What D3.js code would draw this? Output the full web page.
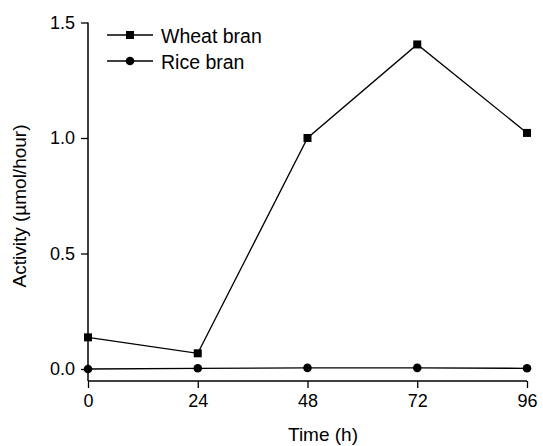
<!DOCTYPE html>
<html>
<head>
<meta charset="utf-8">
<script src="https://cdn.jsdelivr.net/npm/d3@7"></script>
<style>
  body { margin: 0; background: #fff; }
  text { font-family: "Liberation Sans", Arial, sans-serif; fill: #000; }
</style>
</head>
<body>
<script>
var width = 543, height = 446;

var hours = [0, 24, 48, 72, 96];
var wheat = [0.137, 0.068, 1.0, 1.405, 1.022];
var rice = [0.0, 0.003, 0.005, 0.005, 0.003];
var seriesNames = ["Wheat bran", "Rice bran"];
var xTicks = [0, 24, 48, 72, 96];
var yTicks = [0.0, 0.5, 1.0, 1.5];

var svg = d3.select("body").append("svg")
  .attr("width", width)
  .attr("height", height);

var x = d3.scaleLinear().domain([0, 96]).range([88, 527]);
var y = d3.scaleLinear().domain([0, 1.5]).range([369, 22.5]);
var yBottom = y(-0.052);

// axes
var xAxis = svg.append("g").attr("transform", "translate(0," + yBottom + ")");
xAxis.call(d3.axisBottom(x).tickValues([12, 36, 60, 84]).tickSize(4).tickFormat(""));
xAxis.call(d3.axisBottom(x).tickValues(xTicks).tickSize(7).tickPadding(6).tickFormat(d3.format("d")));
xAxis.selectAll("path.domain").attr("d", "M" + x(0) + ",0H" + x(96));
xAxis.selectAll("line").attr("stroke-width", 1.3);
xAxis.selectAll("path").attr("stroke-width", 1.5);
xAxis.selectAll("text").style("font-size", "18px").style("font-family", "Liberation Sans, Arial, sans-serif");

var yAxis = svg.append("g").attr("transform", "translate(" + x(0) + ",0)");
yAxis.call(d3.axisLeft(y).tickValues([0.25, 0.75, 1.25]).tickSize(4).tickFormat(""));
yAxis.call(d3.axisLeft(y).tickValues(yTicks).tickSize(7).tickPadding(6).tickFormat(d3.format(".1f")));
yAxis.selectAll("path.domain").attr("d", "M0," + y(1.5) + "V" + yBottom);
yAxis.selectAll("line").attr("stroke-width", 1.3);
yAxis.selectAll("path").attr("stroke-width", 1.5);
yAxis.selectAll("text").style("font-size", "18px").style("font-family", "Liberation Sans, Arial, sans-serif");

// axis titles
svg.append("text")
  .attr("x", 323)
  .attr("y", 441)
  .attr("text-anchor", "middle")
  .style("font-size", "19px")
  .text("Time (h)");

svg.append("text")
  .attr("transform", "translate(26,206) rotate(-90)")
  .attr("text-anchor", "middle")
  .style("font-size", "19px")
  .text("Activity (µmol/hour)");

// lines
var line = d3.line()
  .x(function(d, i) { return x(hours[i]); })
  .y(function(d) { return y(d); });

[wheat, rice].forEach(function(s) {
  svg.append("path")
    .attr("d", line(s))
    .attr("fill", "none")
    .attr("stroke", "#000")
    .attr("stroke-width", 1.3);
});

svg.selectAll(".sq")
  .data(wheat)
  .enter()
  .append("rect")
  .attr("x", function(d, i) { return x(hours[i]) - 4; })
  .attr("y", function(d) { return y(d) - 4; })
  .attr("width", 8)
  .attr("height", 8)
  .attr("fill", "#000");

svg.selectAll(".ci")
  .data(rice)
  .enter()
  .append("circle")
  .attr("cx", function(d, i) { return x(hours[i]); })
  .attr("cy", function(d) { return y(d); })
  .attr("r", 4.3)
  .attr("fill", "#000");

// legend
var legend = svg.selectAll(".legend")
  .data(seriesNames)
  .enter()
  .append("g")
  .attr("transform", function(d, i) { return "translate(107," + (35 + i * 26) + ")"; });

legend.append("line")
  .attr("x1", 0).attr("x2", 46)
  .attr("stroke", "#000").attr("stroke-width", 1.3);

legend.each(function(d, i) {
  var g = d3.select(this);
  if (i == 0) {
    g.append("rect").attr("x", 19).attr("y", -4).attr("width", 8).attr("height", 8).attr("fill", "#000");
  } else {
    g.append("circle").attr("cx", 23).attr("cy", 0).attr("r", 4.3).attr("fill", "#000");
  }
});

legend.append("text")
  .attr("x", 54)
  .attr("y", 8)
  .style("font-size", "19.5px")
  .text(function(d) { return d; });
</script>
</body>
</html>
